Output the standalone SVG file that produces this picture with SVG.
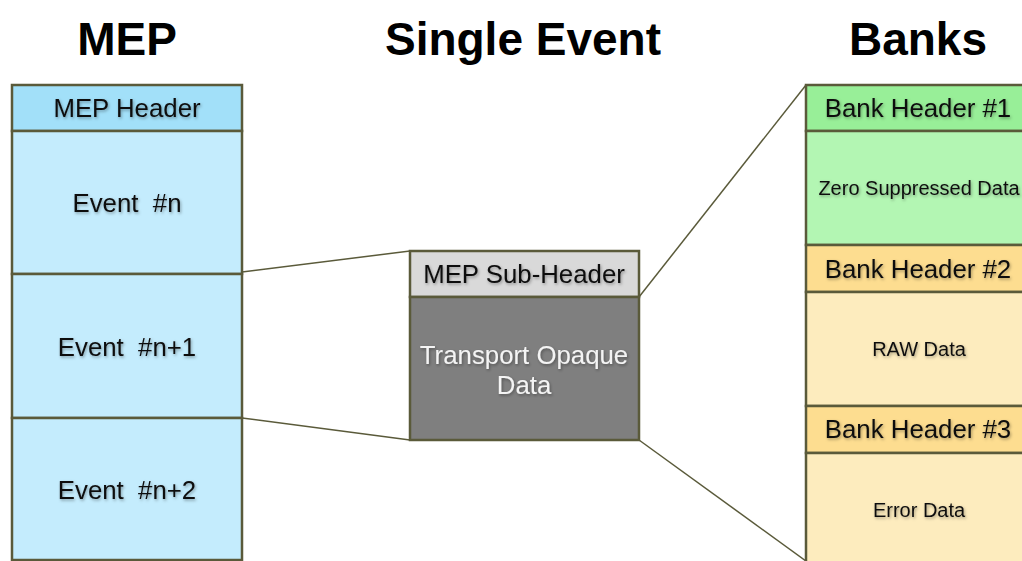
<svg xmlns="http://www.w3.org/2000/svg" width="1022" height="561" viewBox="0 0 1022 561">
<defs>
<filter id="sh" x="-10%" y="-30%" width="120%" height="160%">
<feDropShadow dx="1" dy="1.5" stdDeviation="1.5" flood-color="#000" flood-opacity="0.35"/>
</filter>
<style>
.box{stroke:#5a5a3a;stroke-width:2.5}
.title{font-family:"Liberation Sans",Arial,sans-serif;font-weight:bold;font-size:46px;fill:#000;text-anchor:middle}
.t{font-family:"Liberation Sans",Arial,sans-serif;font-size:25.8px;fill:#111;text-anchor:middle;filter:url(#sh)}
.s{font-family:"Liberation Sans",Arial,sans-serif;font-size:20px;fill:#111;text-anchor:middle;filter:url(#sh)}
.w{fill:#f4f4f4}
.conn{stroke:#5a5a3a;stroke-width:1.5;fill:none}
</style>
</defs>
<rect width="1022" height="561" fill="#fff"/>
<text class="title" x="127" y="55">MEP</text>
<text class="title" x="523" y="55">Single Event</text>
<text class="title" x="918" y="55">Banks</text>
<g id="connectors">
<line class="conn" x1="242" y1="272" x2="410" y2="251"/>
<line class="conn" x1="242" y1="418" x2="410" y2="440"/>
<line class="conn" x1="639" y1="297" x2="806" y2="85"/>
<line class="conn" x1="639" y1="440" x2="806" y2="561"/>
</g>
<g id="mep-header"><rect class="box" x="12" y="85" width="230" height="46" fill="#a2e0f9"/><text class="t" x="127" y="117">MEP Header</text></g>
<g id="event-n"><rect class="box" x="12" y="131" width="230" height="143" fill="#c4ecfd"/><text class="t" x="127" y="212" xml:space="preserve">Event  #n</text></g>
<g id="event-n1"><rect class="box" x="12" y="274" width="230" height="144" fill="#c4ecfd"/><text class="t" x="127" y="356" xml:space="preserve">Event  #n+1</text></g>
<g id="event-n2"><rect class="box" x="12" y="418" width="230" height="142" fill="#c4ecfd"/><text class="t" x="127" y="499" xml:space="preserve">Event  #n+2</text></g>
<g id="sub-header"><rect class="box" x="410" y="251" width="229" height="46" fill="#d9d9d9"/><text class="t" x="524" y="283">MEP Sub-Header</text></g>
<g id="opaque"><rect class="box" x="410" y="297" width="229" height="143" fill="#7f7f7f"/><text class="t w" x="524" y="364">Transport Opaque</text><text class="t w" x="524" y="394">Data</text></g>
<g id="bank-header-1"><rect class="box" x="806" y="85" width="230" height="46" fill="#98ef98"/><text class="t" x="918" y="117">Bank Header #1</text></g>
<g id="zs-data"><rect class="box" x="806" y="131" width="230" height="114" fill="#b3f6b3"/><text class="s" x="919" y="195">Zero Suppressed Data</text></g>
<g id="bank-header-2"><rect class="box" x="806" y="245" width="230" height="47" fill="#fddd90"/><text class="t" x="918" y="278">Bank Header #2</text></g>
<g id="raw-data"><rect class="box" x="806" y="292" width="230" height="114" fill="#fdecbe"/><text class="s" x="919" y="356">RAW Data</text></g>
<g id="bank-header-3"><rect class="box" x="806" y="406" width="230" height="47" fill="#fddd90"/><text class="t" x="918" y="438">Bank Header #3</text></g>
<g id="error-data"><rect class="box" x="806" y="453" width="230" height="120" fill="#fdecbe"/><text class="s" x="919" y="517">Error Data</text></g>
</svg>
